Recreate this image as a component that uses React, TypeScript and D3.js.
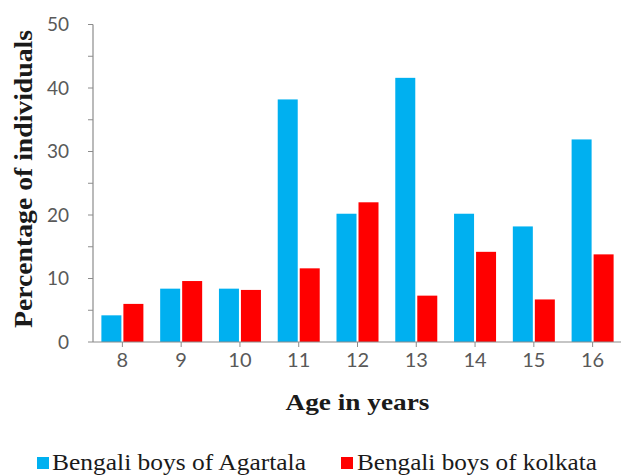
import React from "react";
import * as d3 from "d3";

const ages = ["8", "9", "10", "11", "12", "13", "14", "15", "16"];
const agartala = [4.2, 8.4, 8.4, 38.2, 20.2, 41.6, 20.2, 18.2, 31.9];
const kolkata = [6.0, 9.6, 8.2, 11.6, 22.0, 7.3, 14.2, 6.7, 13.8];
const yTicks = [0, 10, 20, 30, 40, 50];
const yMinorTicks = [0, 5, 10, 15, 20, 25, 30, 35, 40, 45, 50];
const seriesNames = ["Bengali boys of Agartala", "Bengali boys of kolkata"];
const seriesColors = ["#00B0F0", "#FF0000"];

export default function App() {
  const W = 621, H = 476;
  const left = 93, right = 622, top = 24.5, bottom = 342;
  const x = d3.scaleBand<string>().domain(ages).range([left, right]).paddingInner(0).paddingOuter(0);
  const y = d3.scaleLinear().domain([0, 50]).range([bottom, top]);
  const bw = 20;
  const gap = 2;
  const axisColor = "#8C8C8C";
  const tickFont = "Lato, 'Open Sans', sans-serif";
  const serif = "'Liberation Serif', 'Times New Roman', serif";
  const series = [agartala, kolkata];

  return (
    <svg width={W} height={H} style={{ position: "absolute", left: 0, top: 0, background: "#fff" }}>
      <rect x={0} y={0} width={W} height={H} fill="#fff" />
      {series.map((vals, si) =>
        vals.map((v, i) => {
          const cx = (x(ages[i]) as number) + x.bandwidth() / 2;
          const bx = si === 0 ? cx - gap / 2 - bw : cx + gap / 2;
          return (
            <rect key={`${si}-${i}`} x={bx} y={y(v)} width={bw} height={y(0) - y(v)} fill={seriesColors[si]} />
          );
        })
      )}
      {/* y axis */}
      <line x1={left} x2={left} y1={y(50)} y2={y(0)} stroke={axisColor} strokeWidth={1.2} />
      {yMinorTicks.map((t) => (
        <line key={t} x1={left - 5} x2={left} y1={y(t)} y2={y(t)} stroke={axisColor} strokeWidth={1} />
      ))}
      {yTicks.map((t) => (
        <text key={t} x={69} y={y(t)} dy="0.35em" textAnchor="end" fontFamily={tickFont} fontSize={19} fill="#595959">
          {t}
        </text>
      ))}
      {/* x axis */}
      <line x1={left} x2={right} y1={y(0)} y2={y(0)} stroke={axisColor} strokeWidth={1.2} />
      {ages.map((a) => {
        const cx = (x(a) as number) + x.bandwidth() / 2;
        return (
          <g key={a}>
            <line x1={cx} x2={cx} y1={y(0)} y2={y(0) + 5} stroke={axisColor} strokeWidth={1} />
            <text x={cx} y={y(0) + 18} dy="0.35em" textAnchor="middle" fontFamily={tickFont} fontSize={20} fill="#595959">
              {a}
            </text>
          </g>
        );
      })}
      {/* axis titles */}
      <text x={(left + right) / 2} y={410} textAnchor="middle" fontFamily={serif} fontWeight="bold" fontSize={23} fill="#1a1a1a" textLength={144} lengthAdjust="spacingAndGlyphs">
        Age in years
      </text>
      <text transform={`translate(32,179) rotate(-90)`} textAnchor="middle" fontFamily={serif} fontWeight="bold" fontSize={25} fill="#1a1a1a" textLength={298} lengthAdjust="spacingAndGlyphs">
        Percentage of individuals
      </text>
      {/* legend */}
      <rect x={37} y={457} width={12} height={12} fill={seriesColors[0]} />
      <text x={52} y={470} fontFamily={serif} fontSize={23} fill="#1a1a1a" textLength={254} lengthAdjust="spacingAndGlyphs">
        {seriesNames[0]}
      </text>
      <rect x={341} y={457} width={12} height={12} fill={seriesColors[1]} />
      <text x={357} y={470} fontFamily={serif} fontSize={23} fill="#1a1a1a" textLength={240} lengthAdjust="spacingAndGlyphs">
        {seriesNames[1]}
      </text>
    </svg>
  );
}
